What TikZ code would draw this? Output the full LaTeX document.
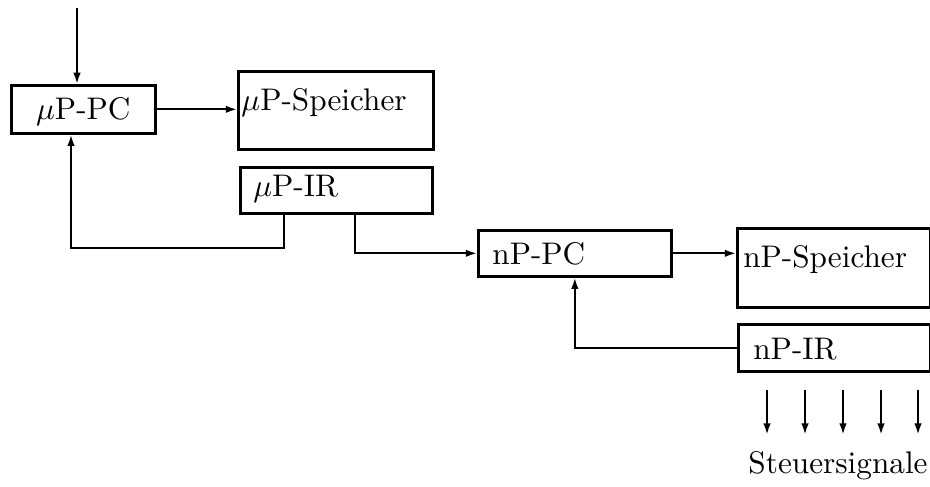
\documentclass[tikz,border=0pt]{standalone}
\usepackage{tikz}
\usetikzlibrary{positioning, arrows.meta}

\begin{document}
\begin{tikzpicture}[
  x=0.32pt, y=-0.32pt,
  box/.style={draw, rectangle, line width=0.85pt, anchor=north west, inner ysep=0pt, align=left},
  arrow/.style={-{Latex[length=3.6pt, width=2.4pt]}, line width=0.65pt}
]
\useasboundingbox (0,0) rectangle (930,486);

% Nodes
\node[box, align=center, inner xsep=0pt, minimum width=46.08pt, minimum height=15.36pt, text height=7pt, text depth=0.6pt] (upc) at (10,84) {$\mu$P-PC};
\node[box, inner xsep=1pt, text width=60.4pt, minimum height=24.96pt, text height=7pt, text depth=7pt] (umem) at (237,70) {$\mu$P-Speicher};
\node[box, inner xsep=4.16pt, text width=53.12pt, minimum height=14.72pt, text height=7pt, text depth=3.16pt] (uir) at (239,166) {$\mu$P-IR};
\node[box, inner xsep=4.5pt, text width=52.76pt, minimum height=14.72pt, text height=7pt, text depth=0pt] (npc) at (477,229) {nP-PC};
\node[box, inner xsep=1.9pt, text width=57.96pt, minimum height=25.28pt, text height=7pt, text depth=7pt] (nmem) at (736,227) {nP-Speicher};
\node[box, inner xsep=4.8pt, text width=51.84pt, minimum height=15.04pt, text height=7.4pt, text depth=0pt] (nir) at (737,323) {nP-IR};
\node[anchor=base, inner sep=5pt] (sig) at (838,473) {Steuersignale};

\coordinate (start) at (77,8);
\coordinate (ufb) at (71,248);

% Lines
\draw[arrow] (start) -- (start |- upc.north);
\draw[arrow] (upc.east) -- (upc.east -| umem.west);
\draw[arrow] ([xshift=14.4pt]uir.south west) |- (ufb) -- (ufb |- upc.south);
\draw[arrow] ([xshift=37.12pt]uir.south west) |- (npc.west);
\draw[arrow] (npc.east) -- (npc.east -| nmem.west);
\draw[arrow] (nir.west) -| (npc.south);
\foreach \x in {767,805,843,881,918}
  \draw[arrow] (\x,390) -- (\x,0 |- sig.north);

\end{tikzpicture}
\end{document}
